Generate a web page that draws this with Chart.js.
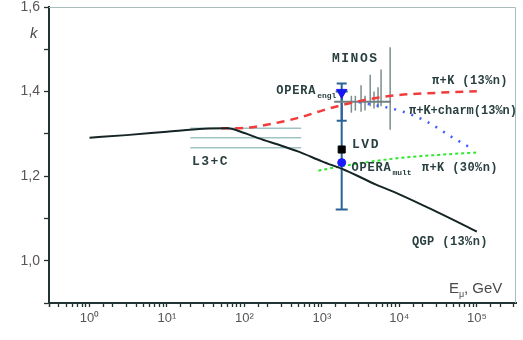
<!DOCTYPE html>
<html lang="ru">
<head>
<meta charset="UTF-8">
<title>k(E)</title>
<script src="https://cdn.jsdelivr.net/npm/chart.js"></script>
<style>
  html, body { margin: 0; padding: 0; background: #fff; }
  #wrap { width: 523px; height: 340px; }
</style>
</head>
<body>
<div id="wrap"><canvas id="kChart"></canvas></div>
<script>
// QGP (13%n) - black solid
const qgpE = [1, 3, 10, 30, 60, 100, 150, 300, 500, 1000, 2000, 5000, 1e4, 3e4, 1e5];
const qgpK = [1.291, 1.297, 1.305, 1.312, 1.313, 1.302, 1.290, 1.272, 1.258, 1.235, 1.214, 1.180, 1.157, 1.116, 1.069];

// pi+K (13%n) - red dashed
const pkE = [50, 100, 200, 500, 1000, 2000, 5000, 1e4, 3e4, 1e5];
const pkK = [1.313, 1.314, 1.322, 1.338, 1.355, 1.370, 1.385, 1.392, 1.397, 1.401];

// pi+K+charm (13%n) - blue dotted
const charmE = [3000, 1e4, 2.2e4, 5e4, 8.7e4];
const charmK = [1.375, 1.355, 1.330, 1.290, 1.265];

// pi+K (30%n) - green dashed
const pk30E = [900, 2000, 1e4, 3e4, 1e5];
const pk30K = [1.213, 1.225, 1.243, 1.250, 1.256];

// L3+C bands
const l3cE = [20, 540];
const l3cK = [1.313, 1.291, 1.267];

// MINOS
const minosE = [2400, 2700, 3200, 3600, 4200, 4700, 5300, 5800, 7600];
const minosK = [1.370, 1.372, 1.380, 1.370, 1.400, 1.375, 1.385, 1.400, 1.375];
const minosLo = [1.350, 1.355, 1.352, 1.355, 1.365, 1.360, 1.362, 1.365, 1.310];
const minosHi = [1.390, 1.390, 1.415, 1.390, 1.440, 1.400, 1.410, 1.452, 1.505];
const minosLineE = [1440, 7800];
const minosLineK = 1.376;

// OPERA / LVD (same energy)
const operaE = 1800;
const operaEnglK = 1.398, operaEnglLo = 1.331, operaEnglHi = 1.419;
const lvdK = 1.263, lvdLo = 1.121, lvdHi = 1.40;
const operaMultK = 1.232;

const xTickPowers = [0, 1, 2, 3, 4, 5];
const sup = ['⁰', '¹', '²', '³', '⁴', '⁵'];

const pts = (xs, ys) => xs.map((x, i) => ({ x: x, y: Array.isArray(ys) ? ys[i] : ys }));

const datasets = [
  { data: [{ x: operaE, y: operaEnglK }], pointStyle: 'triangle', rotation: 180, pointRadius: 6,
    backgroundColor: '#1616f0', borderColor: '#1616f0', order: 0 },
  { data: [{ x: operaE, y: lvdK }], pointStyle: 'rect', pointRadius: 5,
    backgroundColor: '#000', borderColor: '#000', order: 0 },
  { data: [{ x: operaE, y: operaMultK }], pointStyle: 'circle', pointRadius: 4,
    backgroundColor: '#1a1aff', borderColor: '#1a1aff', order: 0 },
  { data: pts(qgpE, qgpK), showLine: true, borderColor: '#152525', borderWidth: 2,
    pointRadius: 0, cubicInterpolationMode: 'monotone', order: 2 },
  { data: pts(pkE, pkK), showLine: true, borderColor: '#f23c3c', borderWidth: 2.5,
    borderDash: [8, 6], pointRadius: 0, cubicInterpolationMode: 'monotone', order: 3 },
  { data: pts(charmE, charmK), showLine: true, borderColor: '#3a5cff', borderWidth: 2.5,
    borderDash: [2, 7], pointRadius: 0, cubicInterpolationMode: 'monotone', order: 3 },
  { data: pts(pk30E, pk30K), showLine: true, borderColor: '#2de82d', borderWidth: 2,
    borderDash: [3, 3], pointRadius: 0, cubicInterpolationMode: 'monotone', order: 3 },
  { data: pts(minosLineE, minosLineK), showLine: true, borderColor: '#6f8080', borderWidth: 2,
    pointRadius: 0, order: 4 }
];
l3cK.forEach(k => datasets.push({ data: pts(l3cE, k), showLine: true, borderColor: '#9fc3c3',
  borderWidth: 1.5, pointRadius: 0, order: 5 }));

const textColor = '#2a4040';
const notes = [
  { t: 'MINOS', x: 1350, y: 1.469, size: 13, sp: 1.5 },
  { t: 'OPERA', sub: 'engl', x: 257, y: 1.395, size: 12, sp: 0.8 },
  { t: 'LVD', x: 2450, y: 1.267, size: 13, sp: 1.5 },
  { t: 'OPERA', sub: 'mult', x: 2400, y: 1.211, size: 12, sp: 0.8 },
  { t: 'π+K (13%n)', x: 26300, y: 1.417, size: 12, sp: 0.4 },
  { t: 'π+K+charm(13%n)', x: 13300, y: 1.348, size: 12, sp: 0 },
  { t: 'π+K (30%n)', x: 19500, y: 1.211, size: 12, sp: 0.4 },
  { t: 'QGP (13%n)', x: 14500, y: 1.038, size: 12, sp: 0.4 },
  { t: 'L3+C', x: 21, y: 1.227, size: 13, sp: 1.5 }
];

function errBar(ctx, xs, ys, x, lo, hi, cap, color, width) {
  const px = xs.getPixelForValue(x);
  const y1 = ys.getPixelForValue(lo), y2 = ys.getPixelForValue(hi);
  ctx.strokeStyle = color;
  ctx.lineWidth = width;
  ctx.beginPath();
  ctx.moveTo(px, y1); ctx.lineTo(px, y2);
  if (cap) {
    ctx.moveTo(px - cap, y1); ctx.lineTo(px + cap, y1);
    ctx.moveTo(px - cap, y2); ctx.lineTo(px + cap, y2);
  }
  ctx.stroke();
}

const extras = {
  id: 'extras',
  beforeDatasetsDraw(chart) {
    const { ctx, scales: { x, y } } = chart;
    ctx.save();
    minosE.forEach((e, i) => errBar(ctx, x, y, e, minosLo[i], minosHi[i], 0, '#7d8d8d', 1.5));
    errBar(ctx, x, y, operaE, lvdLo, lvdHi, 6, '#2a6496', 2);
    errBar(ctx, x, y, operaE, operaEnglLo, operaEnglHi, 5, '#2a6496', 2);
    ctx.restore();
  },
  afterDraw(chart) {
    const { ctx, chartArea: a, scales: { x, y } } = chart;
    ctx.save();
    // thin frame top / right
    ctx.strokeStyle = '#a9bcbc';
    ctx.lineWidth = 1;
    ctx.beginPath();
    ctx.moveTo(a.left, a.top + 0.5); ctx.lineTo(a.right - 0.5, a.top + 0.5);
    ctx.lineTo(a.right - 0.5, a.bottom);
    ctx.stroke();

    ctx.fillStyle = textColor;
    ctx.textBaseline = 'alphabetic';
    notes.forEach(n => {
      const px = x.getPixelForValue(n.x), py = y.getPixelForValue(n.y);
      ctx.font = 'bold ' + n.size + 'px "Liberation Mono", monospace';
      ctx.letterSpacing = n.sp + 'px';
      ctx.fillText(n.t, px, py);
      if (n.sub) {
        const w = ctx.measureText(n.t).width;
        ctx.font = 'bold 8px "Liberation Mono", monospace';
        ctx.letterSpacing = '0px';
        ctx.fillText(n.sub, px + w + 1, py + 4);
      }
    });
    ctx.letterSpacing = '0px';

    // axis titles
    ctx.fillStyle = '#4a4a4a';
    ctx.font = 'italic 15px "Liberation Sans", Arial, sans-serif';
    ctx.fillText('k', a.left - 19, a.top + 31);
    ctx.font = '15px "Liberation Sans", Arial, sans-serif';
    const ex = a.right - 67, ey = a.bottom - 10;
    ctx.fillText('E', ex, ey);
    ctx.font = '9px "Liberation Sans", Arial, sans-serif';
    ctx.fillText('μ', ex + 10, ey + 4);
    ctx.font = '15px "Liberation Sans", Arial, sans-serif';
    ctx.fillText(', GeV', ex + 15, ey);
    ctx.restore();
  }
};

const axisColor = '#213333';

new Chart(document.getElementById('kChart'), {
  type: 'scatter',
  data: { datasets: datasets },
  options: {
    responsive: true,
    maintainAspectRatio: false,
    animation: false,
    layout: { padding: { top: 7, right: 6, left: 0, bottom: 0 } },
    plugins: { legend: { display: false }, tooltip: { enabled: false } },
    scales: {
      x: {
        type: 'logarithmic',
        min: 0.3,
        max: 3.2e5,
        grid: { drawOnChartArea: false, drawTicks: true, tickLength: 4, tickColor: axisColor, tickWidth: 1.3 },
        border: { display: true, color: axisColor, width: 2 },
        afterBuildTicks: s => { s.ticks = s.ticks.filter(t => t.value <= 3.01e5); },
        afterFit: s => { s.height = 37; s.paddingLeft = 0; s.paddingRight = 0; },
        ticks: {
          autoSkip: false,
          maxRotation: 0,
          padding: 4,
          color: '#555',
          font: { family: '"Liberation Sans", Arial, sans-serif', size: 13 },
          callback: v => {
            const l = Math.log10(v);
            const r = Math.round(l);
            if (Math.abs(l - r) > 1e-9 || xTickPowers.indexOf(r) < 0) return '';
            return '10' + sup[r];
          }
        }
      },
      y: {
        min: 0.9,
        max: 1.6,
        grid: { drawOnChartArea: false, drawTicks: true, tickLength: 5, tickColor: axisColor, tickWidth: 1.3 },
        border: { display: true, color: axisColor, width: 2 },
        afterFit: s => { s.width = 49; s.paddingTop = 0; s.paddingBottom = 0; },
        ticks: {
          stepSize: 0.1,
          padding: 4,
          color: '#555',
          font: { family: '"Liberation Sans", Arial, sans-serif', size: 14 },
          callback: v => {
            const n = Math.round(v * 10);
            if (n % 2 !== 0 || n < 10) return '';
            return (n / 10).toFixed(1).replace('.', ',');
          }
        }
      }
    }
  },
  plugins: [extras]
});
</script>
</body>
</html>
